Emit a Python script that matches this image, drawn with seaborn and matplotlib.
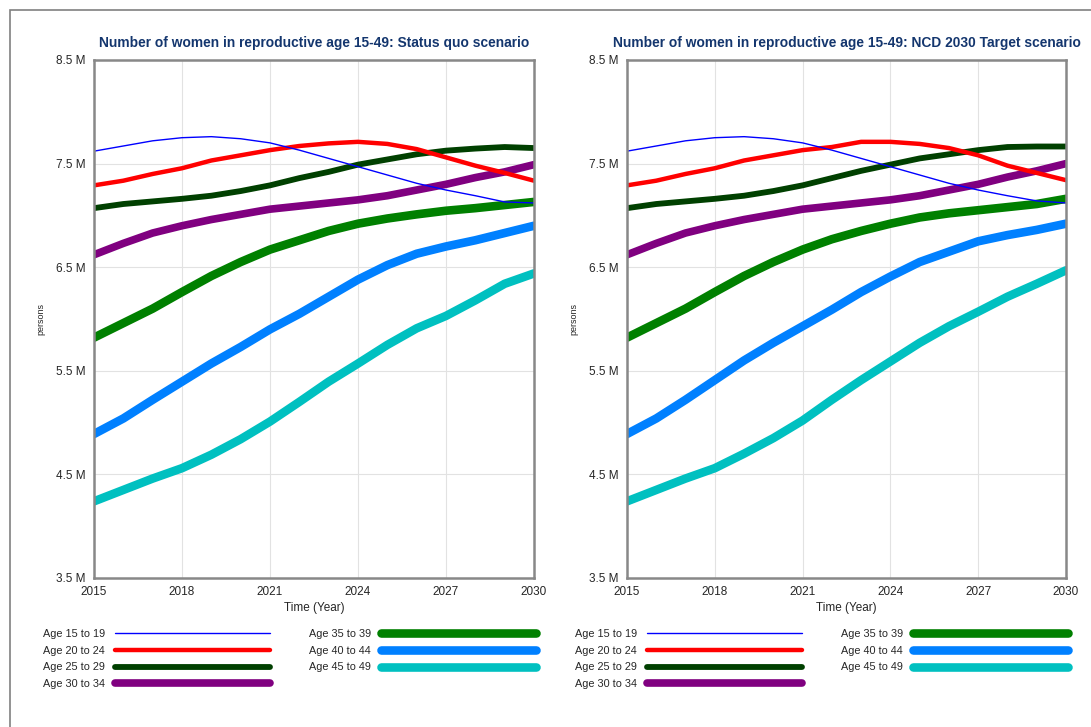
import matplotlib
matplotlib.use("Agg")
import matplotlib.pyplot as plt
import seaborn as sns
import pandas as pd
from matplotlib.lines import Line2D
from matplotlib.patches import Rectangle
from matplotlib.ticker import FuncFormatter

years = list(range(2015, 2031))
groups = ['Age 15 to 19', 'Age 20 to 24', 'Age 25 to 29', 'Age 30 to 34',
          'Age 35 to 39', 'Age 40 to 44', 'Age 45 to 49']

# values in millions
status_quo = {
    'Age 15 to 19': [7.62, 7.67, 7.72, 7.75, 7.76, 7.74, 7.70, 7.63, 7.55, 7.47, 7.39, 7.31, 7.245, 7.19, 7.13, 7.12],
    'Age 20 to 24': [7.29, 7.335, 7.40, 7.455, 7.53, 7.58, 7.63, 7.67, 7.695, 7.71, 7.69, 7.64, 7.56, 7.48, 7.41, 7.335],
    'Age 25 to 29': [7.07, 7.11, 7.135, 7.16, 7.19, 7.235, 7.29, 7.36, 7.42, 7.49, 7.54, 7.59, 7.625, 7.645, 7.66, 7.65],
    'Age 30 to 34': [6.62, 6.73, 6.83, 6.90, 6.96, 7.01, 7.06, 7.09, 7.12, 7.15, 7.19, 7.245, 7.30, 7.365, 7.42, 7.49],
    'Age 35 to 39': [5.82, 5.96, 6.10, 6.26, 6.415, 6.55, 6.67, 6.76, 6.85, 6.92, 6.97, 7.01, 7.045, 7.07, 7.10, 7.13],
    'Age 40 to 44': [4.89, 5.04, 5.22, 5.395, 5.57, 5.73, 5.90, 6.05, 6.215, 6.38, 6.52, 6.63, 6.70, 6.76, 6.83, 6.90],
    'Age 45 to 49': [4.24, 4.35, 4.46, 4.56, 4.69, 4.84, 5.01, 5.20, 5.395, 5.57, 5.75, 5.91, 6.03, 6.18, 6.34, 6.44],
}
ncd_target = {
    'Age 15 to 19': [7.62, 7.67, 7.72, 7.75, 7.76, 7.74, 7.70, 7.63, 7.55, 7.47, 7.39, 7.31, 7.245, 7.19, 7.14, 7.12],
    'Age 20 to 24': [7.29, 7.335, 7.40, 7.455, 7.53, 7.58, 7.63, 7.66, 7.71, 7.71, 7.69, 7.65, 7.58, 7.48, 7.41, 7.34],
    'Age 25 to 29': [7.07, 7.11, 7.135, 7.16, 7.19, 7.235, 7.29, 7.36, 7.43, 7.49, 7.55, 7.59, 7.63, 7.66, 7.665, 7.665],
    'Age 30 to 34': [6.62, 6.73, 6.83, 6.90, 6.96, 7.01, 7.06, 7.09, 7.12, 7.15, 7.19, 7.245, 7.30, 7.37, 7.43, 7.50],
    'Age 35 to 39': [5.82, 5.96, 6.10, 6.26, 6.415, 6.55, 6.67, 6.77, 6.85, 6.92, 6.98, 7.02, 7.05, 7.08, 7.11, 7.16],
    'Age 40 to 44': [4.89, 5.04, 5.22, 5.41, 5.60, 5.77, 5.93, 6.09, 6.26, 6.41, 6.55, 6.65, 6.75, 6.81, 6.86, 6.92],
    'Age 45 to 49': [4.24, 4.35, 4.46, 4.56, 4.70, 4.85, 5.02, 5.22, 5.41, 5.59, 5.77, 5.93, 6.07, 6.215, 6.34, 6.47],
}
titles = ['Number of women in reproductive age 15-49: Status quo scenario',
          'Number of women in reproductive age 15-49: NCD 2030 Target scenario']

colors = {'Age 15 to 19': '#0000FF', 'Age 20 to 24': '#FF0000', 'Age 25 to 29': '#004000',
          'Age 30 to 34': '#800080', 'Age 35 to 39': '#008000', 'Age 40 to 44': '#0080FF',
          'Age 45 to 49': '#00C0C0'}
widths = {'Age 15 to 19': 1.0, 'Age 20 to 24': 3.2, 'Age 25 to 29': 4.2, 'Age 30 to 34': 5.5,
          'Age 35 to 39': 6.2, 'Age 40 to 44': 6.2, 'Age 45 to 49': 6.2}

sns.set_style('white')
plt.rcParams['font.family'] = ['Liberation Sans Narrow', 'Liberation Sans', 'DejaVu Sans']

fig = plt.figure(figsize=(10.91, 7.27), dpi=100)
W, H = 1091, 727
fig.patches.append(Rectangle((10 / W, -0.1), 1.2, 1 - 10 / H + 0.1, transform=fig.transFigure,
                             fill=False, edgecolor='#808080', linewidth=1.2))


def to_long(data):
    rows = []
    for g in groups:
        for y, v in zip(years, data[g]):
            rows.append({'year': y, 'value': v * 1e6, 'group': g})
    return pd.DataFrame(rows)


def draw(ax, data, title, legend_x):
    df = to_long(data)
    sns.lineplot(data=df, x='year', y='value', hue='group', size='group',
                 palette=colors, sizes=widths, hue_order=groups[::-1], size_order=groups[::-1],
                 legend=False, ax=ax)
    ax.set_xlim(2015, 2030)
    ax.set_ylim(3.5e6, 8.5e6)
    ax.set_xticks([2015, 2018, 2021, 2024, 2027, 2030])
    ax.set_yticks([3.5e6, 4.5e6, 5.5e6, 6.5e6, 7.5e6, 8.5e6])
    ax.yaxis.set_major_formatter(FuncFormatter(lambda v, p: f'{v / 1e6:.1f} M'))
    ax.grid(True, color='#E2E2E2', linewidth=0.8)
    ax.tick_params(length=0, labelsize=8.5, pad=6)
    for s in ax.spines.values():
        s.set_color('#888888')
        s.set_linewidth(1.8)
    ax.set_title(title, fontsize=9.9, fontweight='bold', color='#14366E', pad=9)
    ax.set_xlabel('Time (Year)', fontsize=8.5, labelpad=3)
    ax.set_ylabel('persons', fontsize=6.5, labelpad=8)
    handles = [Line2D([0], [0], color=colors[g], linewidth=widths[g], solid_capstyle='round')
               for g in groups]
    fig.legend(handles, groups, loc='upper left', bbox_to_anchor=(legend_x, 1 - 629 / H),
               ncol=2, markerfirst=False, frameon=False, fontsize=7.8,
               handlelength=14.3, handletextpad=0.9, columnspacing=3.6,
               labelspacing=0.62, borderaxespad=0, borderpad=0)


ax1 = fig.add_axes([94 / W, 1 - 578 / H, 440 / W, 518 / H])
ax2 = fig.add_axes([627 / W, 1 - 578 / H, 439 / W, 518 / H])
draw(ax1, status_quo, titles[0], 43 / W)
draw(ax2, ncd_target, titles[1], 575 / W)

fig.savefig('out.png', dpi=100)
